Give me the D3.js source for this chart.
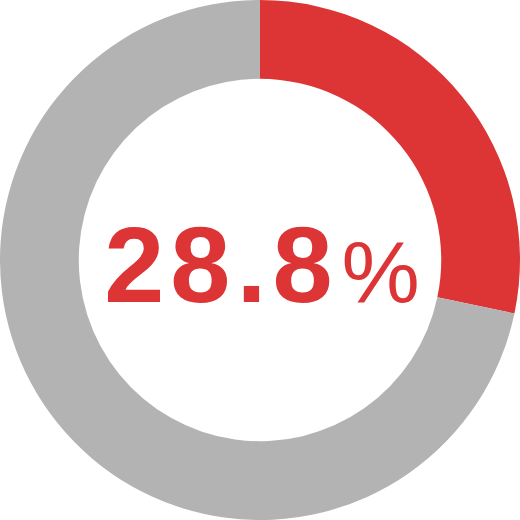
<!DOCTYPE html>
<html>
<head>
<meta charset="utf-8">
<script src="https://cdn.jsdelivr.net/npm/d3@7"></script>
<style>
  body { margin: 0; background: #fff; }
  svg { display: block; }
</style>
</head>
<body>
<svg id="donut" width="520" height="520"></svg>
<script>
// data (slice shares as drawn in the picture, label as printed)
var labels = ["該当", "その他"];
var values = [28.3, 71.7];
var colors = ["#dd3535", "#b3b3b3"];
var valueText = "28.8";
var unitText = "%";

var svg = d3.select("#donut"),
  width = +svg.attr("width"),
  height = +svg.attr("height");

var outer = Math.min(width, height) / 2;
var inner = outer * 0.697;

var g = svg.append("g")
  .attr("transform", "translate(" + width / 2 + "," + height / 2 + ")");

var pie = d3.pie().sort(null).value(function (d) { return d; });
var arc = d3.arc().innerRadius(inner).outerRadius(outer);

g.selectAll("path")
  .data(pie(values))
  .enter()
  .append("path")
  .attr("d", arc)
  .attr("fill", function (d, i) { return colors[i]; });

// center label
var t = g.append("text")
  .attr("x", 2)
  .attr("y", 42)
  .attr("text-anchor", "middle")
  .attr("fill", colors[0])
  .attr("font-family", "'Liberation Sans', Arial, sans-serif");

t.append("tspan")
  .attr("font-size", 108)
  .attr("font-weight", "bold")
  .attr("letter-spacing", 6)
  .text(valueText);

t.append("tspan")
  .attr("dx", 3)
  .attr("font-size", 88)
  .text(unitText);
</script>
</body>
</html>
